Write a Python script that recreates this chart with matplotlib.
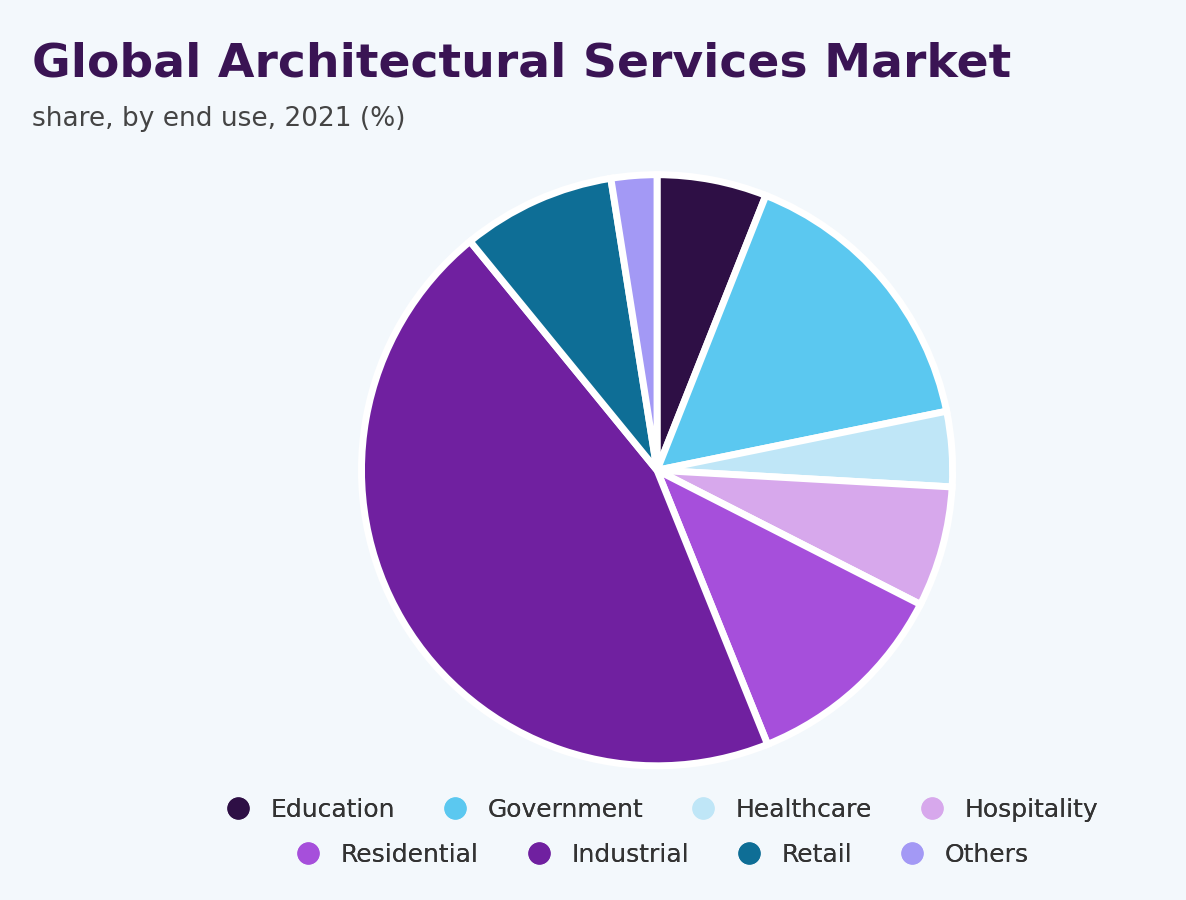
import matplotlib.pyplot as plt
from matplotlib.lines import Line2D

labels = ["Education", "Government", "Healthcare", "Hospitality",
          "Residential", "Industrial", "Retail", "Others"]
shares = [6.0, 15.8, 4.1, 6.6, 11.4, 45.2, 8.4, 2.5]
colors = ["#2e0f45", "#5bc8f0", "#bfe6f7", "#d7a8ec",
          "#a64fdb", "#7020a0", "#0e6e96", "#a399f5"]

bg = "#f3f8fc"
fig = plt.figure(figsize=(11.86, 9), dpi=100, facecolor=bg)

fig.text(0.027, 0.915, "Global Architectural Services Market", fontsize=34,
         fontweight="heavy", color="#3a1454", family="DejaVu Sans")
fig.text(0.027, 0.86, "share, by end use, 2021 (%)", fontsize=19, color="#444444")

ax = fig.add_axes([0.301, 0.144, 0.506, 0.667])
ax.set_facecolor(bg)
ax.pie(shares, colors=colors, startangle=90, counterclock=False, radius=0.985,
       wedgeprops=dict(edgecolor="white", linewidth=5))
ax.set_xlim(-1, 1)
ax.set_ylim(-1, 1)
ax.set_aspect("equal")
ax.axis("off")

handles = [Line2D([], [], marker="o", linestyle="", markersize=15,
                  markerfacecolor=c, markeredgecolor=c) for c in colors]
# two separately centred rows, like the original
for row, y in ((0, 0.1), (1, 0.05)):
    sl = slice(row * 4, row * 4 + 4)
    leg = fig.legend(handles[sl], labels[sl], loc="center",
                     bbox_to_anchor=(0.553, y), ncol=4, frameon=False,
                     fontsize=18, labelcolor="#333333", handletextpad=0.3,
                     columnspacing=1.4)
    fig.add_artist(leg)

fig.savefig("out.png", dpi=100, facecolor=bg)
